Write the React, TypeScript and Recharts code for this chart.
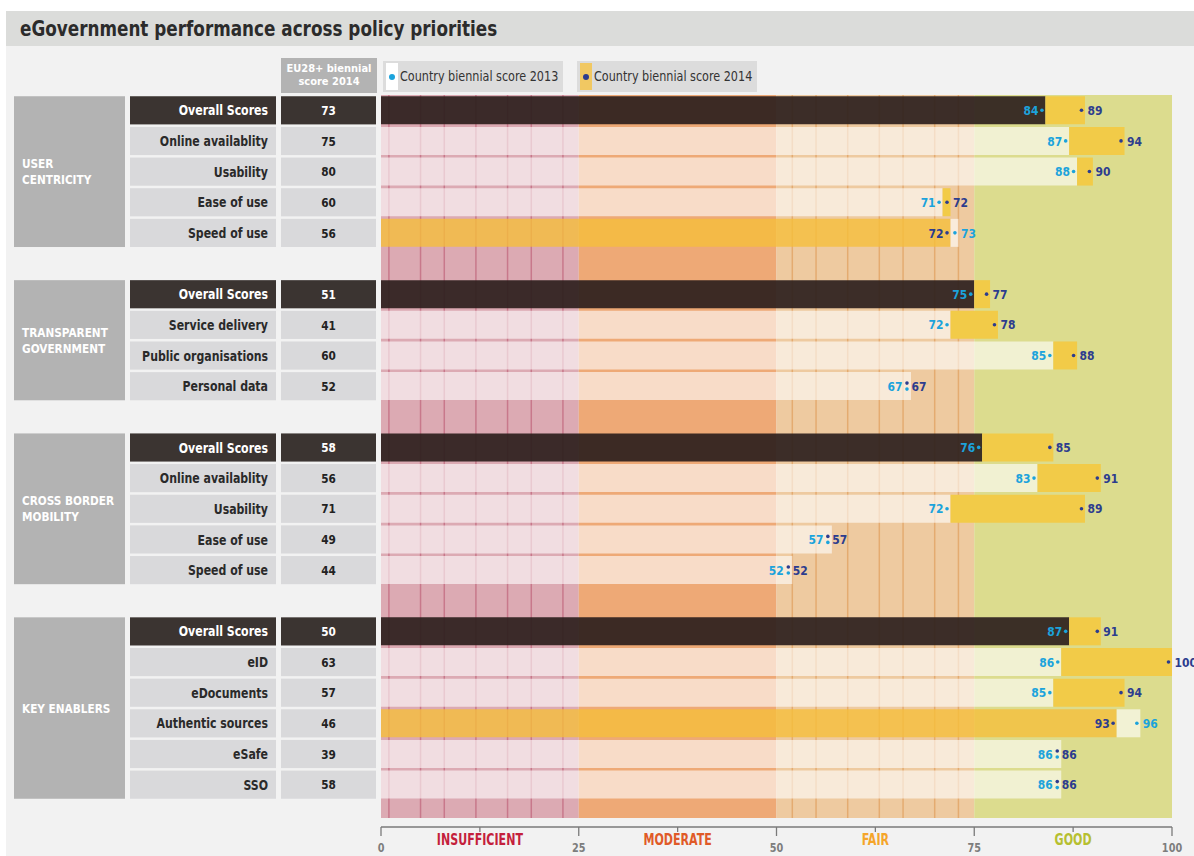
import React from 'react';
import { Bar, BarChart, Cell, LabelList, ReferenceArea, XAxis, YAxis } from 'recharts';

const groupNames = [['USER', 'CENTRICITY'], ['TRANSPARENT', 'GOVERNMENT'], ['CROSS BORDER', 'MOBILITY'], ['KEY ENABLERS']];

const indicators = [
  ['Overall Scores', 'Online availablity', 'Usability', 'Ease of use', 'Speed of use'],
  ['Overall Scores', 'Service delivery', 'Public organisations', 'Personal data'],
  ['Overall Scores', 'Online availablity', 'Usability', 'Ease of use', 'Speed of use'],
  ['Overall Scores', 'eID', 'eDocuments', 'Authentic sources', 'eSafe', 'SSO'],
];

const euScore2014 = [
  [73, 75, 80, 60, 56],
  [51, 41, 60, 52],
  [58, 56, 71, 49, 44],
  [50, 63, 57, 46, 39, 58],
];

const country2013 = [
  [84, 87, 88, 71, 73],
  [75, 72, 85, 67],
  [76, 83, 72, 57, 52],
  [87, 86, 85, 96, 86, 86],
];

const country2014 = [
  [89, 94, 90, 72, 72],
  [77, 78, 88, 67],
  [85, 91, 89, 57, 52],
  [91, 100, 94, 93, 86, 86],
];

const zoneBounds = [0, 25, 50, 75, 100];
const zoneNames = ['INSUFFICIENT', 'MODERATE', 'FAIR', 'GOOD'];
const insufficientMarks = [1, 5, 8, 12, 16, 19, 23];
const fairMarks = [52, 55, 59, 63, 66, 70, 73];
const axisTicks = [0, 12.5, 25, 37.5, 50, 62.5, 75, 87.5, 100];

const FONT = "'DejaVu Sans Condensed', 'Liberation Sans Narrow', 'Roboto Condensed', sans-serif";
const C13 = '#1ba3dc';
const C14 = '#2c3c8e';
const YELLOW = '#f2cb48';
const zoneFill = ['#dcaab3', '#eea976', '#eecaa0', '#dcdc8e'];
const zoneText = ['#c41f3c', '#e05a28', '#f5a52a', '#b6bf30'];

const W = 1194;
const H = 856;
const TOP = 95;
const LEFT = 381;
const RIGHT = 22;
const AXIS_H = 38;
const PAD_BOTTOM = 18;
const PLOT_W = W - LEFT - RIGHT;

type Row = {
  key: string;
  gap?: boolean;
  label?: string;
  eu?: number;
  s13?: number;
  s14?: number;
  base: number | null;
  diff: number | null;
  overall?: boolean;
  first?: boolean;
  n?: number;
  group?: number;
};

const rows: Row[] = [];
indicators.forEach((list, g) => {
  list.forEach((label, i) => {
    const a = country2013[g][i];
    const b = country2014[g][i];
    rows.push({
      key: `r${g}-${i}`,
      label,
      eu: euScore2014[g][i],
      s13: a,
      s14: b,
      base: Math.min(a, b),
      diff: Math.abs(b - a),
      overall: i === 0,
      first: i === 0,
      n: list.length,
      group: g,
    });
  });
  if (g < indicators.length - 1) rows.push({ key: `gap${g}`, gap: true, base: null, diff: null });
});
const rowByKey: Record<string, Row> = {};
rows.forEach((r) => (rowByKey[r.key] = r));

const PITCH = (H - TOP - AXIS_H - PAD_BOTTOM) / rows.length;

const baseFill = (r: Row) => {
  if (r.overall) return { fill: '#2c201d', op: 0.92 };
  if ((r.s14 ?? 0) < (r.s13 ?? 0)) return { fill: '#f6bf3a', op: 0.78 };
  return { fill: '#ffffff', op: 0.6 };
};
const diffFill = (r: Row) => {
  if ((r.s14 ?? 0) < (r.s13 ?? 0)) return { fill: '#ffffff', op: 0.62 };
  return { fill: YELLOW, op: 1 };
};

// condensed text: DejaVu Condensed squeezed a bit more to match the narrow original face
const CText = ({ x, y, sx = 0.87, children, ...rest }: any) => (
  <text transform={`translate(${x},${y}) scale(${sx},1)`} x={0} y={0} dy="0.36em" fontFamily={FONT} fontWeight="bold" {...rest}>
    {children}
  </text>
);

const RowTick = (props: any) => {
  const { y, payload } = props;
  const r = rowByKey[payload.value];
  if (!r || r.gap) return null;
  const top = y - PITCH / 2 + 1.25;
  const h = PITCH - 2.5;
  const dark = r.overall;
  let groupBox = null;
  if (r.first) {
    const gh = (r.n ?? 1) * PITCH - 2.5;
    const lines = groupNames[r.group ?? 0];
    const cy = top + gh / 2 - ((lines.length - 1) * 16) / 2;
    groupBox = (
      <g>
        <rect x={14} y={top} width={111} height={gh} fill="#b3b3b3" />
        {lines.map((t, i) => (
          <CText key={t} x={22} y={cy + i * 16} sx={0.9} fill="#fff" fontSize={13}>
            {t}
          </CText>
        ))}
      </g>
    );
  }
  return (
    <g>
      {groupBox}
      <rect x={130} y={top} width={146} height={h} fill={dark ? '#3b3431' : '#d9d9db'} />
      <CText x={268} y={y} textAnchor="end" fill={dark ? '#fff' : '#2a2a2a'} fontSize={14}>
        {r.label}
      </CText>
      <rect x={281} y={top} width={95} height={h} fill={dark ? '#3b3431' : '#d9d9db'} />
      <CText x={328.5} y={y} sx={0.9} textAnchor="middle" fill={dark ? '#fff' : '#222'} fontSize={13}>
        {r.eu}
      </CText>
    </g>
  );
};

const AxisTick = (props: any) => {
  const { x, y, payload } = props;
  const v = payload.value;
  const major = v % 25 === 0;
  const ay = y + 9;
  return (
    <g>
      {v === 0 && <line x1={x} x2={x + PLOT_W} y1={ay} y2={ay} stroke="#7a7a7a" strokeWidth={1.3} />}
      <line x1={x} x2={x} y1={ay} y2={ay + (major ? 9 : 5)} stroke="#7a7a7a" strokeWidth={1.3} />
      {major ? (
        <CText x={x} y={ay + 21} sx={0.9} textAnchor="middle" fill="#7d7d7d" fontSize={12}>
          {v}
        </CText>
      ) : (
        <CText x={x} y={ay + 13} sx={0.82} textAnchor="middle" fill={zoneText[Math.floor(v / 25)]} fontSize={15}>
          {zoneNames[Math.floor(v / 25)]}
        </CText>
      )}
    </g>
  );
};

const ValueLabels = (props: any) => {
  const vb = props.viewBox ?? {};
  const x = props.x ?? vb.x;
  const y = props.y ?? vb.y;
  const width = props.width ?? vb.width;
  const height = props.height ?? vb.height;
  if (x == null || y == null || !width) return null;
  const idx = Math.floor((y + height / 2 - TOP) / PITCH);
  const r = rows[idx];
  if (!r || r.gap || r.s13 == null || r.s14 == null) return null;
  const k = width / (r.base as number);
  const minX = x + width;
  const hi = Math.max(r.s13, r.s14);
  const maxX = x + hi * k;
  const cy = y + height / 2;
  if (r.s13 === r.s14) {
    return (
      <g>
        <CText x={minX - 8.5} y={cy} sx={0.92} textAnchor="end" fill={C13} fontSize={13}>{r.s13}</CText>
        <circle cx={minX - 4} cy={cy - 3} r={1.8} fill={C14} />
        <circle cx={minX - 4} cy={cy + 3} r={1.8} fill={C13} />
        <CText x={minX + 0.5} y={cy} sx={0.92} fill={C14} fontSize={13}>{r.s14}</CText>
      </g>
    );
  }
  const up = r.s14 > r.s13;
  const lc = up ? C13 : C14;
  const rc = up ? C14 : C13;
  return (
    <g>
      <CText x={minX - 7} y={cy} sx={0.92} textAnchor="end" fill={lc} fontSize={13}>{Math.min(r.s13, r.s14)}</CText>
      <circle cx={minX - 3.5} cy={cy} r={1.8} fill={lc} />
      <circle cx={maxX - 3.5} cy={cy} r={1.8} fill={rc} />
      <CText x={maxX + 2.5} y={cy} sx={0.92} fill={rc} fontSize={13}>{hi}</CText>
    </g>
  );
};

// zone rectangle, stretched into the bottom padding band
const zoneShape = (fill: string) => (p: any) => (
  <rect x={p.x} y={p.y} width={p.width} height={p.height + PAD_BOTTOM} fill={fill} />
);
const markShape = (stroke: string) => (p: any) => (
  <line x1={p.x + p.width / 2} x2={p.x + p.width / 2} y1={p.y} y2={p.y + p.height + PAD_BOTTOM} stroke={stroke} strokeWidth={1.5} />
);

const LegendBox = ({ left, strip, dot, text }: { left: number; strip: string; dot: string; text: string }) => (
  <div style={{ position: 'absolute', left, top: 61, width: 180, height: 31, background: '#dcdcdc' }}>
    <div style={{ position: 'absolute', left: 3, top: 2, width: 12, height: 27, background: strip }} />
    <div style={{ position: 'absolute', left: 6, top: 13, width: 6, height: 6, borderRadius: 3, background: dot }} />
    <div
      style={{
        position: 'absolute',
        left: 17,
        top: 0,
        lineHeight: '31px',
        fontFamily: FONT,
        fontSize: 14,
        color: '#333',
        whiteSpace: 'nowrap',
        transform: 'scaleX(0.89)',
        transformOrigin: 'left center',
      }}
    >
      {text}
    </div>
  </div>
);

export default function App() {
  return (
    <div style={{ position: 'absolute', left: 0, top: 0, width: W, height: H, background: '#fff', overflow: 'hidden' }}>
      <div style={{ position: 'absolute', left: 6, top: 11, width: W - 6, height: H - 11, background: '#f2f2f2' }} />
      <div style={{ position: 'absolute', left: 6, top: 11, width: W - 6, height: 35, background: '#dbdcda' }}>
        <div
          style={{
            position: 'absolute',
            left: 14,
            top: 0,
            lineHeight: '35px',
            fontFamily: FONT,
            fontWeight: 'bold',
            fontSize: 22,
            color: '#2b2b2b',
            whiteSpace: 'nowrap',
            transform: 'scaleX(0.85)',
            transformOrigin: 'left center',
          }}
        >
          eGovernment performance across policy priorities
        </div>
      </div>
      <div
        style={{
          position: 'absolute',
          left: 281,
          top: 58,
          width: 96,
          height: 35,
          background: '#b3b3b3',
          color: '#fff',
          fontFamily: FONT,
          fontWeight: 'bold',
          fontSize: 11,
          lineHeight: '13px',
          textAlign: 'center',
          paddingTop: 4,
          boxSizing: 'border-box',
        }}
      >
        EU28+ biennial
        <br />
        score 2014
      </div>
      <LegendBox left={383} strip="#ffffff" dot={C13} text="Country biennial score 2013" />
      <LegendBox left={577} strip="#f1c862" dot={C14} text="Country biennial score 2014" />
      <div style={{ position: 'absolute', left: 0, top: 0 }}>
        <BarChart
          width={W}
          height={H}
          data={rows}
          layout="vertical"
          margin={{ top: TOP, right: RIGHT, bottom: 0, left: 0 }}
          barCategoryGap={1.25}
        >
          <XAxis
            type="number"
            domain={[0, 100]}
            ticks={axisTicks}
            interval={0}
            height={AXIS_H}
            axisLine={false}
            tickLine={false}
            tickSize={0}
            tickMargin={0}
            tick={<AxisTick />}
          />
          <YAxis
            type="category"
            dataKey="key"
            width={LEFT}
            interval={0}
            axisLine={false}
            tickLine={false}
            tickSize={0}
            tickMargin={0}
            padding={{ top: 0, bottom: PAD_BOTTOM }}
            tick={<RowTick />}
          />
          {zoneFill.map((c, i) => (
            <ReferenceArea key={c} x1={zoneBounds[i]} x2={zoneBounds[i + 1]} ifOverflow="visible" shape={zoneShape(c)} />
          ))}
          {insufficientMarks.map((v) => (
            <ReferenceArea key={`i${v}`} x1={v - 0.05} x2={v + 0.05} ifOverflow="visible" shape={markShape('#c8788b')} />
          ))}
          {fairMarks.map((v) => (
            <ReferenceArea key={`f${v}`} x1={v - 0.05} x2={v + 0.05} ifOverflow="visible" shape={markShape('#e4ab70')} />
          ))}
          <Bar dataKey="base" stackId="s" isAnimationActive={false}>
            {rows.map((r) => {
              const f = baseFill(r);
              return <Cell key={r.key} fill={f.fill} fillOpacity={f.op} />;
            })}
            <LabelList dataKey="base" content={<ValueLabels />} />
          </Bar>
          <Bar dataKey="diff" stackId="s" isAnimationActive={false}>
            {rows.map((r) => {
              const f = diffFill(r);
              return <Cell key={r.key} fill={f.fill} fillOpacity={f.op} />;
            })}
          </Bar>
        </BarChart>
      </div>
    </div>
  );
}
